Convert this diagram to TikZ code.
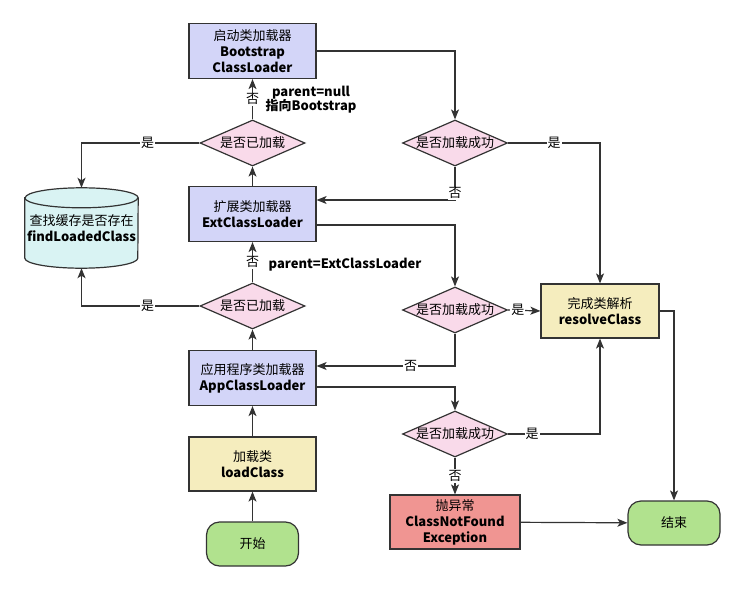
\documentclass[tikz,border=0pt]{standalone}
\usepackage{fontspec}
\setmainfont{Noto Sans CJK SC}
\usetikzlibrary{shapes.geometric,arrows.meta,backgrounds}

\definecolor{lnc}{HTML}{333333}
\definecolor{ldrfill}{HTML}{D3D5F8}
\definecolor{askfill}{HTML}{F9DAEA}
\definecolor{cachefill}{HTML}{D9F3F3}
\definecolor{actfill}{HTML}{F5EDBE}
\definecolor{errfill}{HTML}{F09592}
\definecolor{termfill}{HTML}{B1E28E}

\newcommand\dtxt[1]{\makebox[0pt]{#1}}

\tikzset{
  box/.style={draw=lnc, line width=1.2pt, align=center, inner sep=1pt},
  ldr/.style={box, fill=ldrfill, minimum width=127pt, minimum height=55pt},
  act/.style={box, fill=actfill, minimum width=127pt, minimum height=54pt},
  errbox/.style={box, fill=errfill, minimum width=130pt, minimum height=54pt},
  term/.style={box, fill=termfill, rounded corners=13pt, minimum width=92pt, minimum height=44pt},
  ask/.style={box, diamond, fill=askfill, inner sep=0pt, minimum width=105pt, minimum height=46pt},
  arr/.style={draw=lnc, line width=1.2pt, -{Stealth[length=10pt,width=8pt,inset=2.5pt]}},
  lbl/.style={fill=white, inner sep=1pt},
}

\begin{document}
\begin{tikzpicture}[x=1pt, y=-1pt, font=\fontsize{13}{16}\selectfont]
  \useasboundingbox (0,0) rectangle (746,591);

  \node[ldr] (bs) at (252.5,51) {启动类加载器\\\textbf{Bootstrap}\\\textbf{ClassLoader}};
  \node[ask] (q1) at (252.5,143) {\dtxt{是否已加载}};
  \node[ldr] (ext) at (252.5,214) {扩展类加载器\\\textbf{ExtClassLoader}};
  \node[ask] (q2) at (252.5,306) {\dtxt{是否已加载}};
  \node[ldr] (app) at (252.5,378) {应用程序类加载器\\\textbf{AppClassLoader}};
  \node[act] (lc) at (252.5,464) {加载类\\\textbf{loadClass}};
  \node[term] (st) at (252.5,544) {开始};
  \node[align=center, inner sep=0pt, minimum width=113pt, minimum height=80pt] (cc) at (81.5,228)
    {查找缓存是否存在\\\textbf{findLoadedClass}};
  \node[ask] (r1) at (455,143) {\dtxt{是否加载成功}};
  \node[ask] (r2) at (455,310) {\dtxt{是否加载成功}};
  \node[ask] (r3) at (455,434) {\dtxt{是否加载成功}};
  \node[act, minimum width=118pt] (rc) at (600,311) {完成类解析\\\textbf{resolveClass}};
  \node[errbox] (ex) at (455,522) {抛异常\\\textbf{ClassNotFound}\\\textbf{Exception}};
  \node[term] (fin) at (674,523) {结束};

  \node[align=center, font=\fontsize{13}{14}\selectfont\bfseries] (pn) at (311,100) {parent=null\\指向Bootstrap};
  \node[font=\fontsize{13}{14}\selectfont\bfseries] (pe) at (345,265) {parent=ExtClassLoader};

  \begin{scope}[on background layer]
    \draw[draw=lnc, line width=1.2pt, fill=cachefill]
      ([yshift=-10pt]cc.north west) -- ([yshift=10pt]cc.south west)
      arc[start angle=180, end angle=360, x radius=56.5pt, y radius=10pt]
      -- ([yshift=-10pt]cc.north east)
      arc[start angle=0, end angle=180, x radius=56.5pt, y radius=10pt] -- cycle;
    \draw[draw=lnc, line width=1.2pt] ([yshift=-10pt]cc.north west)
      arc[start angle=180, end angle=360, x radius=56.5pt, y radius=10pt];
  \end{scope}

  \draw[arr] (st) -- (lc);
  \draw[arr] (lc) -- (app);
  \draw[arr] (app) -- (q2);
  \draw[arr] (q2) -- node[lbl] {否} (ext);
  \draw[arr] (ext) -- (q1);
  \draw[arr] (q1) -- node[lbl] {否} (bs);
  \draw[arr] (q1.west) -| node[lbl, pos=0.22] {是} (cc.north);
  \draw[arr] (q2.west) -| node[lbl, pos=0.22] {是} (cc.south);
  \draw[arr] (bs.east) -| (r1.north);
  \draw[arr] (r1.east) -| node[lbl, pos=0.25] {是} (rc.north);
  \draw[arr] (r1.south) |- node[lbl, pos=0.4] {否} ([yshift=14pt]ext.east);
  \draw[arr] ([yshift=-11pt]ext.east) -| (r2.north);
  \draw[arr] (r2.east) -- node[lbl, pos=0.3] {是} (rc.west);
  \draw[arr] (r2.south) |- node[lbl, pos=0.66] {否} ([yshift=12pt]app.east);
  \draw[arr] ([yshift=-9pt]app.east) -| (r3.north);
  \draw[arr] (r3.east) -| node[lbl, pos=0.13] {是} (rc.south);
  \draw[arr] (r3) -- node[lbl] {否} (ex);
  \draw[arr] (ex) -- (fin);
  \draw[arr] (rc.east) -| (fin.north);
\end{tikzpicture}
\end{document}
